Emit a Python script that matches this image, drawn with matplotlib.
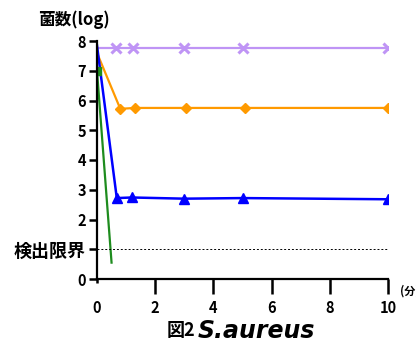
import matplotlib
matplotlib.use("Agg")
import matplotlib.pyplot as plt

plt.rcParams['font.family'] = ['Noto Sans CJK JP', 'DejaVu Sans']

# survival counts (log) over time
x_purple = [0, 0.65, 1.22, 3, 5, 10]
y_purple = [7.76, 7.76, 7.76, 7.76, 7.76, 7.76]
x_orange = [0, 0.8, 1.3, 3.05, 5.1, 10]
y_orange = [7.6, 5.72, 5.75, 5.75, 5.75, 5.75]
x_blue = [0, 0.68, 1.2, 3, 5, 10]
y_blue = [7.85, 2.72, 2.74, 2.7, 2.72, 2.68]
x_green = [0, 0.5]
y_green = [7.0, 0.55]
detect_limit = 1.0

yticks = [0, 1, 2, 3, 4, 5, 6, 7, 8]
ylabels = ['0', '検出限界', '2', '3', '4', '5', '6', '7', '8']
xticks = [2, 4, 6, 8, 10]

fig = plt.figure(figsize=(4.16, 3.47), dpi=100)
ax = fig.add_axes([97 / 416, 68 / 347, 291 / 416, 238 / 347])

ax.plot(x_purple, y_purple, color='#bf94f5', lw=1.6, marker='x', ms=7, mew=2.2,
        markevery=slice(1, None))
ax.plot(x_orange, y_orange, color='#ff9a00', lw=1.6, marker='D', ms=5.5,
        markevery=slice(1, None))
ax.plot(x_blue, y_blue, color='#0000ff', lw=1.8, marker='^', ms=7,
        markevery=slice(1, None))
ax.plot(x_green, y_green, color='#1e8c1e', lw=1.6, marker='s', ms=5.5, markevery=[0])
ax.plot([0, 10], [detect_limit, detect_limit], color='black', lw=0.7, ls=(0, (2, 2)))

ax.set_xlim(0, 10)
ax.set_ylim(0, 8)
ax.set_yticks(yticks)
ax.set_yticklabels(ylabels)
ax.set_xticks(xticks)
ax.set_xticks([0], labels=['0'], minor=True)
for s in ['top', 'right']:
    ax.spines[s].set_visible(False)
ax.spines['left'].set_linewidth(1.6)
ax.spines['bottom'].set_linewidth(1.6)
ax.tick_params(axis='y', which='major', color='black', length=6, width=1.8,
               pad=2, labelsize=10.5)
ax.tick_params(axis='x', which='major', color='black', length=11, width=1.8,
               pad=4, labelsize=10.5)
ax.tick_params(axis='x', which='minor', color='black', length=3, width=1.8,
               pad=12, labelsize=10.5)
for lab in (ax.get_xticklabels() + ax.get_xticklabels(minor=True)
            + ax.get_yticklabels()):
    lab.set_fontweight('bold')
ax.get_yticklabels()[1].set_fontsize(13)

fig.text(74 / 416, 1 - 20 / 347, '菌数(log)', fontsize=12, fontweight='bold',
         ha='center', va='center')
fig.text(400 / 416, 1 - 291 / 347, '(分)', fontsize=8, fontweight='bold',
         ha='left', va='center')
fig.text(195 / 416, 1 - 330 / 347, '図2', fontsize=13, fontweight='bold',
         ha='right', va='center')
fig.text(198 / 416, 1 - 331 / 347, 'S.aureus', fontsize=17, fontweight='bold',
         style='italic', family='DejaVu Sans', ha='left', va='center')

fig.savefig('out.png', dpi=100)
